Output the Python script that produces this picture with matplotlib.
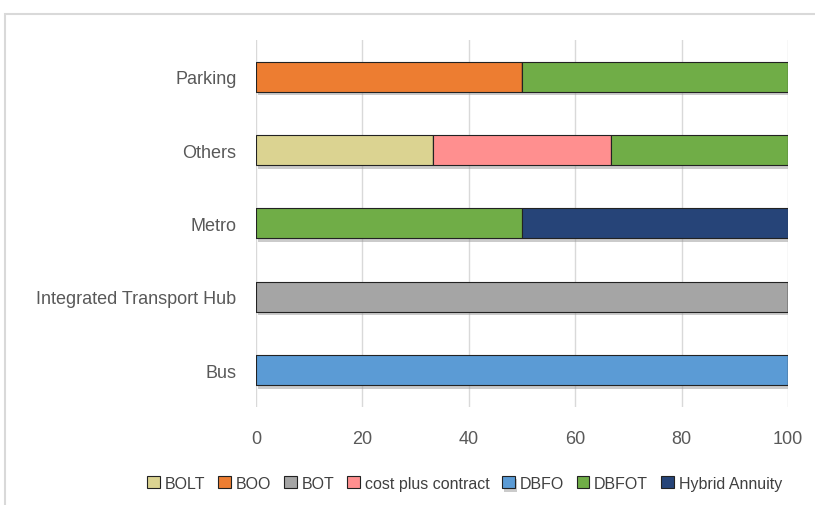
import matplotlib.pyplot as plt
import matplotlib.patheffects as pe
from matplotlib.patches import Rectangle
import numpy as np

plt.rcParams['font.family'] = ['Liberation Sans', 'DejaVu Sans']

# Share of projects (%) by contract type for each sector
sectors = ['Bus', 'Integrated Transport Hub', 'Metro', 'Others', 'Parking']
contracts = ['BOLT', 'BOO', 'BOT', 'cost plus contract', 'DBFO', 'DBFOT', 'Hybrid Annuity']
bolt = [0, 0, 0, 33.33, 0]
boo = [0, 0, 0, 0, 50]
bot = [0, 100, 0, 0, 0]
cost_plus = [0, 0, 0, 33.33, 0]
dbfo = [100, 0, 0, 0, 0]
dbfot = [0, 0, 50, 33.34, 50]
hybrid = [0, 0, 50, 0, 0]
colors = ['#dbd391', '#ed7d31', '#a5a5a5', '#ff8f8f', '#5b9bd5', '#70ad47', '#264478']

fig = plt.figure(figsize=(8.15, 5.06), dpi=100)
ax = fig.add_axes([0.314, 0.194, 0.653, 0.725])

# light outer frame like the chart area border
fig.patches.append(Rectangle((5 / 815, -0.1), 1.0, 1 - 15 / 506 + 0.1, transform=fig.transFigure,
                             fill=False, edgecolor='#d9d9d9', linewidth=1.5, zorder=0))

y = np.arange(len(sectors))
left = np.zeros(len(sectors))
shadow = [pe.SimplePatchShadow(offset=(1.5, -2.5), shadow_rgbFace='#999999', alpha=0.5), pe.Normal()]
for vals, name, c in zip([bolt, boo, bot, cost_plus, dbfo, dbfot, hybrid], contracts, colors):
    vals = np.array(vals)
    bars = ax.barh(y, vals, left=left, height=0.41, color=c, edgecolor='#222222',
                   linewidth=0.8, label=name, zorder=3)
    for b in bars:
        if b.get_width() > 0:
            b.set_path_effects(shadow)
    left += vals

ax.set_xlim(0, 100)
ax.set_ylim(-0.5, 4.5)
ax.set_xticks(range(0, 101, 20))
ax.set_yticks(y)
ax.set_yticklabels(sectors)
ax.grid(axis='x', color='#d9d9d9', linewidth=1, zorder=0)
for s in ax.spines.values():
    s.set_visible(False)
ax.tick_params(length=0, labelsize=13, colors='#595959')
ax.tick_params(axis='y', pad=14)
ax.tick_params(axis='x', pad=17)

handles, labels = ax.get_legend_handles_labels()
fig.legend(handles, labels, loc='lower center', bbox_to_anchor=(0.57, 0.0), ncol=7,
           frameon=False, fontsize=11.5, handlelength=0.8, handleheight=0.8,
           handletextpad=0.3, columnspacing=0.8, labelcolor='#404040')

fig.savefig('out.png', dpi=100)
